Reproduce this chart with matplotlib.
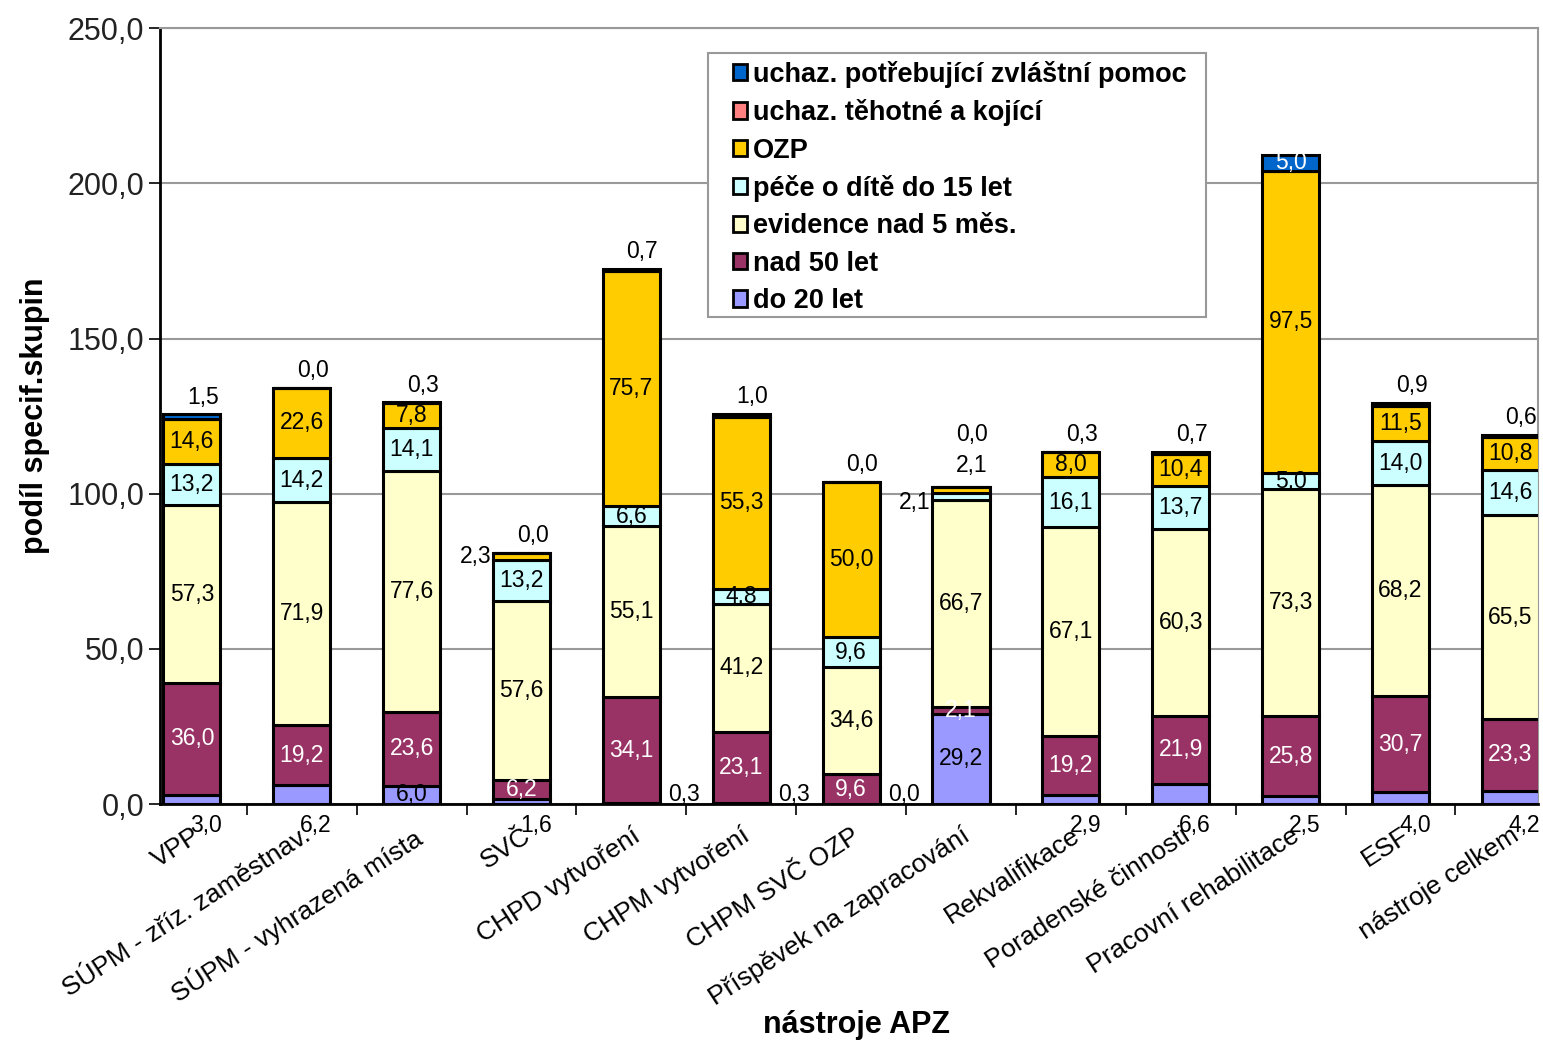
import matplotlib.pyplot as plt
import numpy as np
from matplotlib.patches import Patch, Rectangle

categories = ['VPP', 'SÚPM - zříz. zaměstnav.', 'SÚPM - vyhrazená místa', 'SVČ',
              'CHPD vytvoření', 'CHPM vytvoření', 'CHPM SVČ OZP',
              'Příspěvek na zapracování', 'Rekvalifikace', 'Poradenské činnosti',
              'Pracovní rehabilitace', 'ESF', 'nástroje celkem']

do20 = [3.0, 6.2, 6.0, 1.6, 0.3, 0.3, 0.0, 29.2, 2.9, 6.6, 2.5, 4.0, 4.2]
nad50 = [36.0, 19.2, 23.6, 6.2, 34.1, 23.1, 9.6, 2.1, 19.2, 21.9, 25.8, 30.7, 23.3]
evidence = [57.3, 71.9, 77.6, 57.6, 55.1, 41.2, 34.6, 66.7, 67.1, 60.3, 73.3, 68.2, 65.5]
pece = [13.2, 14.2, 14.1, 13.2, 6.6, 4.8, 9.6, 2.1, 16.1, 13.7, 5.0, 14.0, 14.6]
ozp = [14.6, 22.6, 7.8, 2.3, 75.7, 55.3, 50.0, 2.1, 8.0, 10.4, 97.5, 11.5, 10.8]
tehotne = [0.0] * 13
zvlastni = [1.5, 0.0, 0.3, 0.0, 0.7, 1.0, 0.0, 0.0, 0.3, 0.7, 5.0, 0.9, 0.6]

names = ['do 20 let', 'nad 50 let', 'evidence nad 5 měs.', 'péče o dítě do 15 let',
         'OZP', 'uchaz. těhotné a kojící', 'uchaz. potřebující zvláštní pomoc']
series = [do20, nad50, evidence, pece, ozp, tehotne, zvlastni]
colors = ['#9999FF', '#993366', '#FFFFCC', '#CCFFFF', '#FFCC00', '#FF8080', '#0066CC']
txtcol = ['black', 'white', 'black', 'black', 'black', 'black', 'white']

# where the small "do 20 let" labels end up
do20_pos = ['below', 'below', 'in', 'below', 'side', 'side', 'side', 'in',
            'below', 'below', 'below', 'below', 'below']

plt.rcParams['font.family'] = ['Liberation Sans', 'DejaVu Sans']

def fmt(v):
    return f'{v:.1f}'.replace('.', ',')

fig = plt.figure(figsize=(15.43, 10.43), dpi=100)
ax = fig.add_axes([0.1037, 0.229, 0.893, 0.744])

x = np.arange(len(categories))
w = 0.52
bottom = np.zeros(len(categories))
for vals, c in zip(series, colors):
    ax.bar(x, vals, w, bottom=bottom, color=c, edgecolor='black', linewidth=2.2, zorder=3)
    bottom += np.array(vals)
totals = bottom

fs = 16.5
bottom = np.zeros(len(categories))
for s, (vals, tc) in enumerate(zip(series, txtcol)):
    for i, v in enumerate(vals):
        mid = bottom[i] + v / 2
        if s == 0:
            mode = do20_pos[i]
            if mode == 'in':
                ax.text(i, mid, fmt(v), ha='center', va='center', fontsize=fs, zorder=5)
            elif mode == 'side':
                ax.text(i + 0.48, 3.0, fmt(v), ha='center', va='center', fontsize=fs, zorder=5)
            else:
                ax.text(i + 0.13, -7, fmt(v), ha='center', va='center', fontsize=fs,
                        zorder=5, clip_on=False)
        elif s == 5:
            pass
        elif s == 6:
            if v >= 3:
                ax.text(i, mid, fmt(v), ha='center', va='center', fontsize=fs, color='white', zorder=5)
            elif i == 7:
                ax.text(i + 0.1, totals[i] + 17, fmt(v), ha='center', va='center', fontsize=fs, zorder=5)
            else:
                ax.text(i + 0.1, totals[i] + 5.5, fmt(v), ha='center', va='center', fontsize=fs, zorder=5)
        elif s == 4 and v < 5:
            if i == 3:
                ax.text(i - 0.42, totals[i] - 1, fmt(v), ha='center', va='center', fontsize=fs, zorder=5)
            else:
                ax.text(i + 0.1, totals[i] + 7, fmt(v), ha='center', va='center', fontsize=fs, zorder=5)
        elif s == 3 and v < 3:
            ax.text(i - 0.42, mid - 2, fmt(v), ha='center', va='center', fontsize=fs, zorder=5)
        else:
            ax.text(i, mid, fmt(v), ha='center', va='center', fontsize=fs, color=tc, zorder=5)
        bottom[i] += v

ax.set_yticks(np.arange(0, 251, 50))
ax.set_yticklabels([fmt(t) for t in np.arange(0, 251, 50)], fontsize=22, color='#222222')
ax.yaxis.grid(True, color='#999999', linewidth=1.5, zorder=0)
ax.set_axisbelow(True)
ax.set_xticks(np.arange(-0.5, 13, 1), minor=True)
ax.set_xticks(x)
ax.set_xticklabels(categories, rotation=33, ha='right', rotation_mode='anchor', fontsize=19)
ax.set_ylim(0, 250)
ax.set_xlim(-0.29, 12.25)
ax.tick_params(axis='x', which='major', length=0, pad=14)
ax.tick_params(axis='x', which='minor', length=8, width=1.2)
ax.tick_params(axis='y', length=8, width=1.2)
ax.spines['left'].set_linewidth(2)
ax.spines['bottom'].set_linewidth(2)
ax.spines['top'].set_color('#999999')
ax.spines['right'].set_color('#999999')
ax.spines['top'].set_linewidth(1.5)
ax.spines['right'].set_linewidth(1.5)

ax.set_ylabel('podíl specif.skupin', fontsize=22, fontweight='bold', labelpad=12)
fig.text(0.555, 0.017, 'nástroje APZ', fontsize=22, fontweight='bold', ha='center', va='center')

# legend box drawn separately so the side padding can be wider than the top one
ax.add_patch(Rectangle((0.3977, 0.6276), 0.3613, 0.3402, transform=ax.transAxes,
                       facecolor='white', edgecolor='#999999', linewidth=1.5, zorder=6))
handles = [Patch(facecolor=c, edgecolor='black', linewidth=2) for c in colors[::-1]]
leg = ax.legend(handles, names[::-1], loc='upper left', bbox_to_anchor=(0.4155, 0.958),
                borderaxespad=0, prop={'weight': 'bold', 'size': 19.5}, frameon=False,
                handlelength=0.55, handleheight=0.55,
                handletextpad=0.2, labelspacing=0.42, borderpad=0)
leg.set_zorder(7)

fig.savefig('out.png', dpi=100)
